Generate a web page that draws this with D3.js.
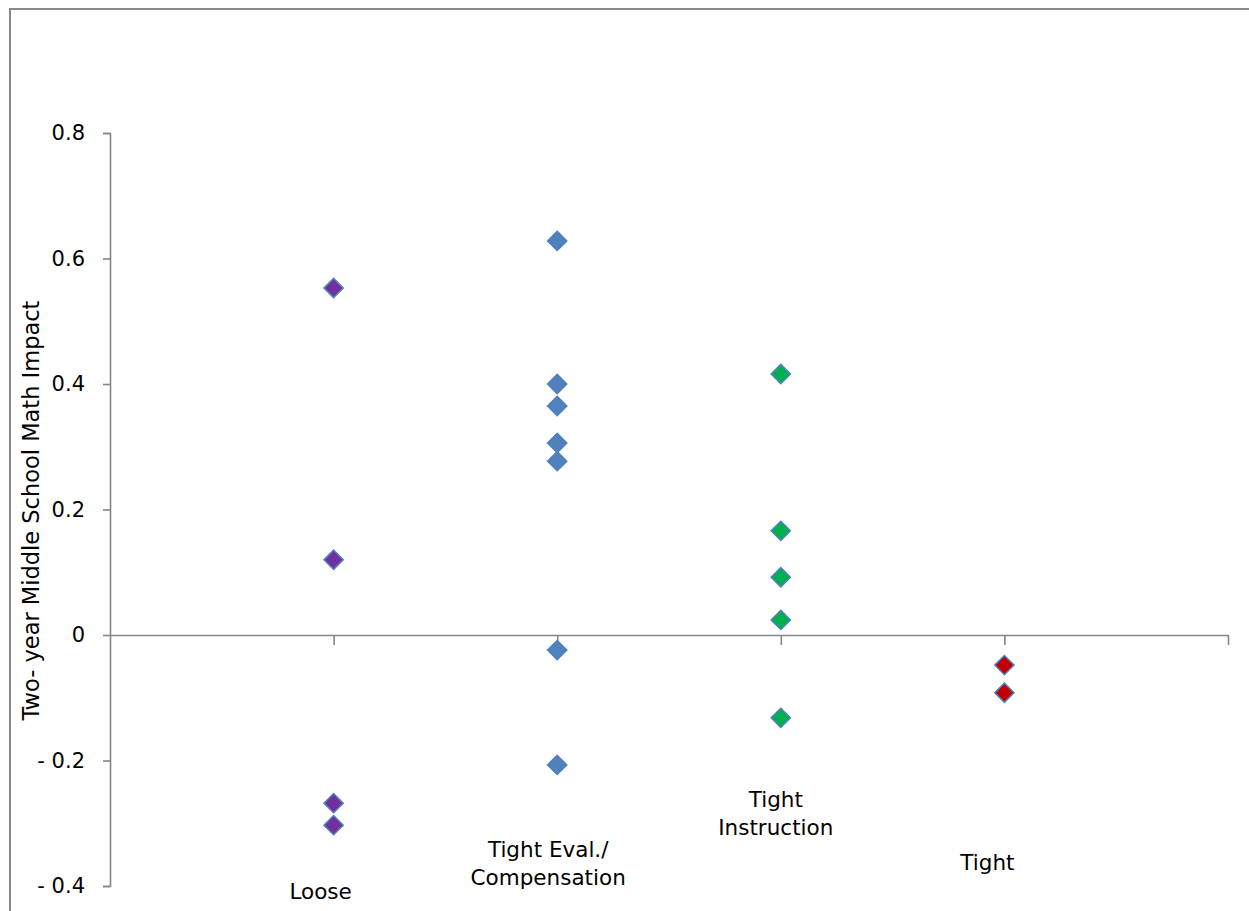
<!DOCTYPE html>
<html><head><meta charset="utf-8">
<script src="https://cdn.jsdelivr.net/npm/d3@7"></script>
<style>body{margin:0;background:#fff;} svg{display:block;font-family:"DejaVu Sans",Verdana,sans-serif;}</style>
</head><body>
<script>
const categories = ["Loose", "Tight Eval./ Compensation", "Tight Instruction", "Tight"];
const categoryLabelLines = [["Loose"], ["Tight Eval./", "Compensation"], ["Tight", "Instruction"], ["Tight"]];
const looseValues = [0.553, 0.12, -0.268, -0.303];
const tightEvalValues = [0.628, 0.400, 0.365, 0.306, 0.277, -0.024, -0.207];
const tightInstructionValues = [0.416, 0.166, 0.092, 0.024, -0.132];
const tightValues = [-0.048, -0.092];
const seriesValues = [looseValues, tightEvalValues, tightInstructionValues, tightValues];
const seriesColors = ["#7030A0", "#4F81BD", "#00B050", "#C00000"];
const yTicks = [-0.4, -0.2, 0, 0.2, 0.4, 0.6, 0.8];
const yTickLabels = ["- 0.4", "- 0.2", "0", "0.2", "0.4", "0.6", "0.8"];
const yTitle = "Two- year Middle School Math Impact";

const W = 1249, H = 911;
const svg = d3.select("body").append("svg").attr("width", W).attr("height", H);

// outer frame
svg.append("rect").attr("x", 10).attr("y", 9).attr("width", 1300).attr("height", 1000)
  .attr("fill", "none").attr("stroke", "#888").attr("stroke-width", 2);

const x = d3.scaleLinear().domain([0, 5]).range([110, 1228]);
const y = d3.scaleLinear().domain([-0.4, 0.8]).range([886, 133]);
const axisColor = "#868686";

// y axis
const yAxis = svg.append("g").attr("transform", "translate(110,0)")
  .call(d3.axisLeft(y).tickValues(yTicks).tickSize(7).tickPadding(18)
    .tickFormat((d, i) => yTickLabels[i]));
yAxis.select(".domain").attr("stroke", axisColor).attr("stroke-width", 1.6);
yAxis.selectAll(".tick line").attr("stroke", axisColor).attr("stroke-width", 1.6);
yAxis.selectAll(".tick text").attr("fill", "#000").attr("font-size", 21)
  .attr("font-family", "DejaVu Sans");

// x axis at y=0
const xAxis = svg.append("g").attr("transform", `translate(0,${y(0)})`)
  .call(d3.axisBottom(x).tickValues([1, 2, 3, 4, 5]).tickSize(10).tickSizeOuter(0).tickFormat(""));
xAxis.select(".domain").attr("stroke", axisColor).attr("stroke-width", 1.6);
xAxis.selectAll(".tick line").attr("stroke", axisColor).attr("stroke-width", 1.6);

// y title
svg.append("text").attr("transform", `translate(39,${(133 + 886) / 2 + 1}) rotate(-90)`)
  .attr("text-anchor", "middle").attr("font-size", 22.5).attr("fill", "#000").text(yTitle);

// category labels (manual text boxes)
const labelPos = [
  {dx: -13, y0: 899}, {dx: -9, y0: 857}, {dx: -5, y0: 807}, {dx: -17, y0: 870}
];
categoryLabelLines.forEach((lines, i) => {
  const t = svg.append("text").attr("text-anchor", "middle").attr("font-size", 21.5).attr("fill", "#000");
  lines.forEach((ln, j) => {
    t.append("tspan").attr("x", x(i + 1) + labelPos[i].dx).attr("y", labelPos[i].y0 + j * 28).text(ln);
  });
});

// points (diamonds)
seriesValues.forEach((vals, i) => {
  svg.append("g").selectAll("path").data(vals).join("path")
    .attr("d", d3.symbol().type(d3.symbolSquare).size(185))
    .attr("transform", d => `translate(${x(i + 1)},${y(d)}) rotate(45)`)
    .attr("fill", seriesColors[i]).attr("stroke", "#4F81BD").attr("stroke-width", 1.5);
});
</script>
</body></html>
